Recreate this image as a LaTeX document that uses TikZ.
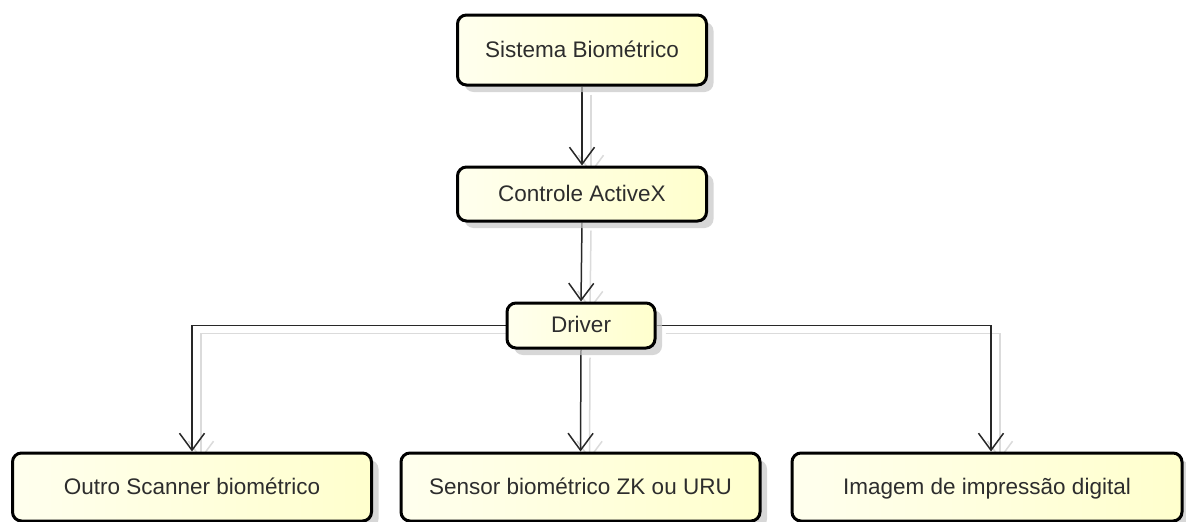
\documentclass[tikz,border=0pt]{standalone}
\usepackage{fontspec}
\setmainfont{Liberation Sans}
\usetikzlibrary{arrows.meta,shadows,calc}
\pgfdeclarelayer{bg}
\pgfdeclarelayer{paper}
\pgfsetlayers{paper,bg,main}
\definecolor{boxl}{RGB}{255,255,238}
\definecolor{boxr}{RGB}{255,255,205}
\definecolor{linec}{RGB}{40,40,40}
\definecolor{txt}{RGB}{45,45,45}
\tikzset{
  box/.style={draw=black, line width=3pt, rounded corners=9pt,
    left color=boxl, right color=boxr, inner sep=0pt,
    text=txt, font=\fontsize{22.5}{26}\selectfont,
    text height=18pt, text depth=4pt,
    drop shadow={shadow xshift=7pt, shadow yshift=-7pt, fill=black!22, opacity=0.7}},
  conn/.style={draw=linec, line width=1.5pt,
    -{Straight Barb[length=17pt,width=25pt,line width=1.5pt]},
    preaction={draw=black!14, line width=1.5pt, transform canvas={xshift=9pt,yshift=-8pt}}}
}
\begin{document}
\begin{tikzpicture}[x=1pt,y=-1pt]
\begin{pgfonlayer}{paper}
\fill[white] (0,0) rectangle (1186,522);
\end{pgfonlayer}
\useasboundingbox (0,0) rectangle (1186,522);
\node[box, minimum width=249pt, minimum height=70pt] (sis) at (582,50) {Sistema Biométrico};
\node[box, minimum width=249pt, minimum height=54pt] (ctl) at (582,194) {Controle ActiveX};
\node[box, minimum width=148pt, minimum height=45pt] (drv) at (581,325.5) {Driver};
\node[box, minimum width=359pt, minimum height=68pt] (out) at (192,487) {Outro Scanner biométrico};
\node[box, minimum width=359pt, minimum height=68pt] (sen) at (580.5,487) {Sensor biométrico ZK ou URU};
\node[box, minimum width=390pt, minimum height=68pt] (img) at (987,487) {Imagem de impressão digital};
\coordinate (lt) at (192,325.5);
\coordinate (rt) at (991,325.5);
\begin{pgfonlayer}{bg}
\draw[conn] (sis.south) -- (ctl.north);
\draw[conn] (ctl.south) -- (drv.north);
\draw[conn] (drv.west) -- (lt) -- (lt |- out.north);
\draw[conn] (drv.east) -- (rt) -- (rt |- img.north);
\draw[conn] (drv.south) -- (sen.north);
\end{pgfonlayer}
\end{tikzpicture}
\end{document}
